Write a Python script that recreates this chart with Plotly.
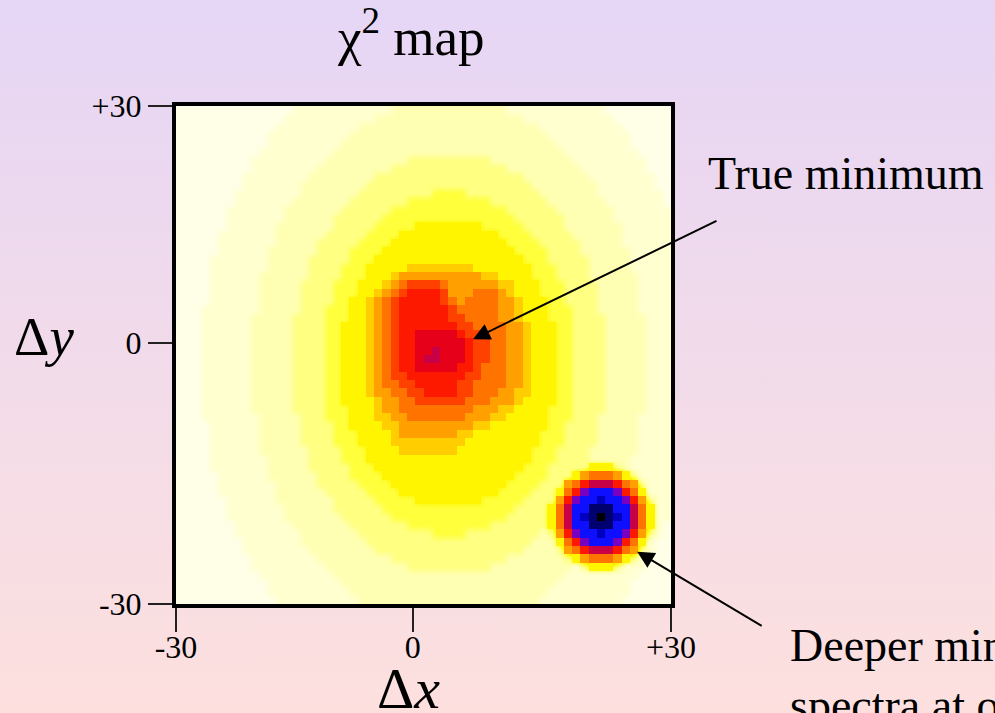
import base64
import plotly.graph_objects as go

# ---------------- data ----------------
# chi^2 level code for each map cell (0 = lowest chi^2 ... H = highest)
LEVELS = "0123456789ABCDEFGH"
LEVEL_COLORS = [
    "rgb(0,0,0)", "rgb(0,0,110)", "rgb(0,0,190)", "rgb(15,15,255)",
    "rgb(120,0,190)", "rgb(200,0,70)", "rgb(230,0,25)", "rgb(252,25,0)",
    "rgb(255,65,0)", "rgb(255,115,0)", "rgb(255,160,0)", "rgb(255,205,0)",
    "rgb(255,245,0)", "rgb(255,255,60)", "rgb(255,255,130)", "rgb(255,255,180)",
    "rgb(255,255,208)", "rgb(255,255,232)",
]
# 60 x 60 map, run-length coded rows (level char + count), top row first (dy = +30 .. -30)
CHI2_ROWS = [
    "H14 G12 F14 G12 H8",
    "H13 G11 F18 G11 H7",
    "H12 G10 F22 G10 H6",
    "H11 G10 F24 G10 H5",
    "H11 G9 F26 G9 H5",
    "H10 G9 F28 G9 H4",
    "H9 G9 F10 E10 F10 G9 H3",
    "H9 G8 F9 E14 F9 G8 H3",
    "H8 G8 F8 E18 F8 G8 H2",
    "H8 G7 F8 E20 F8 G7 H2",
    "H7 G8 F7 E9 D4 E9 F7 G8 H1",
    "H7 G7 F7 E7 D10 E7 F7 G7 H1",
    "H6 G7 F7 E6 D14 E6 F7 G7",
    "H6 G7 F6 E6 D16 E6 F6 G7",
    "H6 G6 F7 E5 D5 C8 D5 E5 F7 G6",
    "H5 G7 F6 E5 D4 C12 D4 E5 F6 G6",
    "H5 G7 F5 E5 D4 C14 D4 E5 F5 G6",
    "H5 G6 F6 E4 D4 C16 D4 E4 F6 G5",
    "H4 G7 F5 E5 D3 C18 D3 E5 F5 G5",
    "H4 G7 F5 E4 D3 C5 B8 C7 D3 E4 F5 G5",
    "H4 G6 F6 E4 D3 C3 B1 A10 B2 C4 D3 E4 F6 G4",
    "H4 G6 F5 E4 D3 C3 B1 A1 91 84 91 A2 A4 B2 C3 D3 E4 F5 G4",
    "H4 G6 F5 E4 D3 C2 B1 A1 91 81 74 81 A1 A1 A1 93 A1 B1 C3 D3 E4 F5 G4",
    "H4 G6 F5 E4 D2 C2 B1 A1 91 81 75 81 91 A1 94 A2 B1 C3 D2 E4 F5 G4",
    "H3 G7 F5 E3 D3 C2 B1 A1 91 81 76 81 95 A2 B1 C3 D3 E3 F5 G4",
    "H3 G6 F5 E4 D3 C2 B1 A1 91 81 76 82 94 A2 B1 C3 D3 E4 F5 G3",
    "H3 G6 F5 E4 D2 C3 B1 A1 91 81 77 82 94 A2 B1 C3 D2 E4 F5 G3",
    "H3 G6 F5 E4 D2 C3 B1 A1 91 81 72 65 71 82 93 A2 B1 C3 D2 E4 F5 G3",
    "H3 G6 F5 E4 D2 C3 B1 A1 91 81 72 66 71 82 92 A2 B1 C3 D2 E4 F5 G3",
    "H3 G6 F5 E4 D2 C3 B1 A1 91 81 72 62 51 63 71 82 92 A2 B1 C3 D2 E4 F5 G3",
    "H3 G6 F5 E4 D2 C3 B1 A1 91 81 72 61 52 63 71 82 92 A2 B1 C3 D2 E4 F5 G3",
    "H3 G6 F5 E4 D2 C3 B1 A1 91 81 72 65 72 81 93 A2 B1 C3 D2 E4 F5 G3",
    "H3 G6 F5 E4 D2 C3 B1 A1 91 82 77 82 93 A2 B1 C3 D2 E4 F5 G3",
    "H3 G6 F5 E4 D2 C3 B1 A1 92 82 75 82 94 A2 B1 C3 D2 E4 F5 G3",
    "H3 G6 F5 E4 D2 C3 B1 A2 92 82 74 82 93 A2 B2 C3 D2 E4 F5 G3",
    "H3 G6 F5 E4 D2 C4 B1 A2 92 86 93 A3 B1 C4 D2 E4 F5 G3",
    "H3 G6 F5 E4 D3 C3 B1 A2 99 A3 B2 C4 D3 E4 F5 G3",
    "H3 G7 F5 E3 D3 C3 B2 A2 97 A3 B2 C5 D3 E3 F5 G4",
    "H4 G6 F5 E4 D2 C4 B2 A9 B2 C7 D2 E4 F5 G4",
    "H4 G6 F5 E4 D3 C4 B1 A7 B2 C8 D3 E4 F5 G4",
    "H4 G6 F5 E4 D3 C4 B9 C9 D3 E4 F5 G4",
    "H4 G6 F6 E4 D3 C4 B7 C9 D3 E4 F6 G4",
    "H4 G7 F5 E4 D3 C20 D3 E4 F5 G5",
    "H4 G7 F5 E5 D3 C18 D3 E5 C3 E1 F1 G5",
    "H5 G6 F6 E4 D4 C16 D4 E3 C1 A1 93 A1 C1 E1 G4",
    "H5 G7 F5 E5 D4 C14 D4 E3 A1 91 71 53 71 91 A1 E1 G3",
    "H5 G7 F6 E5 D4 C12 D4 E3 C1 91 71 41 33 41 71 91 C1 G3",
    "H6 G6 F7 E5 D5 C8 D5 E4 A1 71 41 32 21 32 41 71 A1 E1 G2",
    "H6 G7 F6 E6 D16 E4 C1 91 51 32 13 32 51 91 C1 G2",
    "H6 G7 F7 E6 D14 E5 C1 91 51 31 21 11 01 11 21 31 51 91 C1 G2",
    "H7 G7 F7 E7 D10 E7 C1 91 51 32 13 32 51 91 C1 G1 H1",
    "H7 G8 F7 E9 D4 E9 F1 E1 A1 71 41 32 21 32 41 71 A1 E1 G1 H1",
    "H8 G7 F8 E20 F3 C1 91 71 41 33 41 71 91 C1 G1 H2",
    "H8 G8 F8 E18 F4 E1 A1 91 71 53 71 91 A1 E1 G1 H2",
    "H9 G8 F9 E14 F7 E1 C1 A1 93 A1 C1 E1 G1 H3",
    "H9 G9 F10 E10 F10 G1 E1 C3 E1 G3 H3",
    "H10 G9 F28 G9 H4",
    "H11 G9 F26 G9 H5",
    "H11 G10 F24 G10 H5",
    "H12 G10 F22 G10 H6",
]
X_TICK_VALS = [-30, -1.3, 30]
X_TICK_TEXT = ["-30", "0", "+30"]
Y_TICK_VALS = [-30, 1.45, 30]
Y_TICK_TEXT = ["-30", "0", "+30"]
TRUE_MIN_TIP = (6.0, 1.9)
DEEP_MIN_TIP = (25.9, -23.7)


def decode(row):
    out = []
    for tok in row.split():
        out += [LEVELS.index(tok[0])] * int(tok[1:])
    if len(out) != 60:
        raise ValueError("bad row length %d: %s" % (len(out), row))
    return out


z = [decode(r) for r in CHI2_ROWS][::-1]  # bottom row first
nlev = len(LEVELS) - 1
colorscale = [[i / nlev, c] for i, c in enumerate(LEVEL_COLORS)]
# sharp (unsmoothed) cells for the deep minima, smooth glow for the background
SHARP_MAX = LEVELS.index("C")
z_sharp = [[v if v <= SHARP_MAX else None for v in row] for row in z]

# ---------------- layout geometry ----------------
W, H = 995, 713
L, R, T, B = 176, 324, 106, 109
PW, PH = W - L - R, H - T - B


def px(x):
    return (x - L) / PW


def py(y):
    return (H - B - y) / PH


FONT = "Liberation Serif, Times New Roman, serif"

fig = go.Figure()
fig.add_trace(go.Heatmap(
    z=z, x0=-29.5, dx=1, y0=-29.5, dy=1, zsmooth="best",
    zmin=0, zmax=nlev, colorscale=colorscale,
    showscale=False, hoverinfo="skip",
))
fig.add_trace(go.Heatmap(
    z=z_sharp, x0=-29.5, dx=1, y0=-29.5, dy=1, zsmooth=False,
    zmin=0, zmax=nlev, colorscale=colorscale,
    showscale=False, hoverinfo="skip",
))

svg = (
    '<svg xmlns="http://www.w3.org/2000/svg" width="995" height="713" '
    'preserveAspectRatio="none"><defs><linearGradient id="g" x1="0" y1="0" x2="0" y2="1">'
    '<stop offset="0" stop-color="rgb(230,214,246)"/>'
    '<stop offset="1" stop-color="rgb(253,224,222)"/>'
    '</linearGradient></defs><rect width="995" height="713" fill="url(#g)"/></svg>'
)
bg_src = "data:image/svg+xml;base64," + base64.b64encode(svg.encode()).decode()

axis_common = dict(
    range=[-30, 30], showgrid=False, zeroline=False,
    showline=True, linewidth=4, linecolor="black", mirror=True,
    ticks="outside", ticklen=24, tickwidth=2, tickcolor="#222",
    tickfont=dict(family=FONT, size=32, color="black"),
    automargin=False, fixedrange=True,
)

fig.update_layout(
    width=W, height=H,
    margin=dict(l=L, r=R, t=T, b=B),
    paper_bgcolor="rgb(242,219,236)",
    plot_bgcolor="rgba(0,0,0,0)",
    xaxis=dict(tickvals=X_TICK_VALS, ticktext=X_TICK_TEXT, ticklabelstandoff=-12,
               **axis_common),
    yaxis=dict(tickvals=Y_TICK_VALS, ticktext=Y_TICK_TEXT, **axis_common),
    images=[dict(
        source=bg_src, xref="paper", yref="paper",
        x=-L / PW, y=1 + T / PH, sizex=W / PW, sizey=H / PH,
        xanchor="left", yanchor="top", sizing="stretch", layer="below",
    )],
    showlegend=False,
)

annotations = [
    dict(text="χ<sup>2</sup> map", x=px(411), y=py(33), xref="paper", yref="paper",
         xanchor="center", yanchor="middle", showarrow=False,
         font=dict(family=FONT, size=53, color="black")),
    dict(text="True minimum", x=px(706), y=py(173), xref="paper", yref="paper",
         xanchor="left", yanchor="middle", showarrow=False,
         font=dict(family=FONT, size=46, color="black")),
    dict(text="Deeper minimum<br>spectra at other", x=px(788), y=py(618),
         xref="paper", yref="paper", xanchor="left", yanchor="top", align="left",
         showarrow=False, font=dict(family=FONT, size=46, color="black")),
    dict(text="Δ<i>y</i>", x=px(44), y=py(336), xref="paper", yref="paper",
         xanchor="center", yanchor="middle", showarrow=False,
         font=dict(family=FONT, size=55, color="black")),
    dict(text="Δ<i>x</i>", x=px(408), y=py(654), xref="paper", yref="paper",
         xanchor="center", yanchor="top", showarrow=False,
         font=dict(family=FONT, size=58, color="black")),
    dict(text="", x=TRUE_MIN_TIP[0], y=TRUE_MIN_TIP[1], xref="x", yref="y",
         ax=245, ay=-119, showarrow=True, arrowhead=2, arrowsize=1.7,
         arrowwidth=2, arrowcolor="black"),
    dict(text="", x=DEEP_MIN_TIP[0], y=DEEP_MIN_TIP[1], xref="x", yref="y",
         ax=126, ay=75, showarrow=True, arrowhead=2, arrowsize=1.7,
         arrowwidth=2, arrowcolor="black"),
]
fig.update_layout(annotations=annotations)

fig.write_html("out.html")
